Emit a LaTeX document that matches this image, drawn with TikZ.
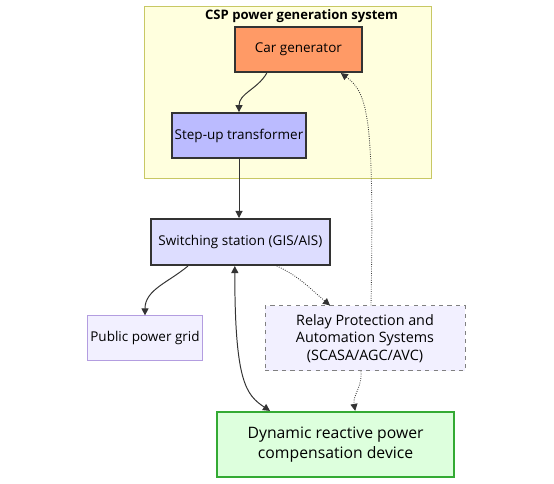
\documentclass[tikz,border=0pt]{standalone}
\usepackage{fontspec}
\setmainfont{Open Sans}
\usetikzlibrary{positioning,arrows.meta}
\definecolor{ClusterFill}{HTML}{FFFFDE}
\definecolor{ClusterLine}{HTML}{C8C864}
\definecolor{GenFill}{HTML}{FF9A66}
\definecolor{TrafoFill}{HTML}{BBBBFF}
\definecolor{StationFill}{HTML}{DDDDFF}
\definecolor{SoftFill}{HTML}{F2F0FF}
\definecolor{GridLine}{HTML}{B39DE0}
\definecolor{GreenFill}{HTML}{DDFFDD}
\definecolor{GreenLine}{HTML}{33AA33}
\definecolor{EdgeGray}{HTML}{333333}

\begin{document}
\begin{tikzpicture}[
      box/.style={draw=EdgeGray,line width=1.4pt,align=center,font=\fontsize{9.6}{11.5}\selectfont,inner sep=2pt},
      flow/.style={{Triangle[length=5pt,width=5pt]}-{Triangle[length=5pt,width=5pt]},EdgeGray,line width=0.7pt},
      fwd/.style={-{Triangle[length=5pt,width=5pt]},EdgeGray,line width=0.7pt},
      ctrl/.style={-{Triangle[length=5pt,width=5pt]},EdgeGray,line width=0.6pt,densely dotted}]
    \useasboundingbox (0,0) rectangle (13.85,-12.1);
    % cluster
    \node[draw=ClusterLine,fill=ClusterFill,line width=0.7pt,minimum width=7.175cm,minimum height=4.3cm] (csp) at (7.19,-2.3) {};
    \node[font=\bfseries\fontsize{9.3}{11}\selectfont,inner sep=1pt,below=0.06cm of csp.north,xshift=0.35cm] (title) {CSP power generation system};
    % nodes
    \node[box,fill=GenFill,minimum width=3.175cm,minimum height=1.125cm] (gen) at (7.46,-1.24) {Car generator};
    \node[box,fill=TrafoFill,minimum width=3.2cm,minimum height=1.125cm] (trafo) at (5.975,-3.39) {Step-up transformer};
    \node[box,fill=StationFill,minimum width=4.475cm,minimum height=1.15cm] (station) at (6.01,-6.05) {Switching station (GIS/AIS)};
    \node[box,fill=SoftFill,draw=GridLine,line width=0.7pt,minimum width=2.8cm,minimum height=1.125cm] (grid) at (3.625,-8.46) {Public power grid};
    \node[box,fill=SoftFill,draw=gray,line width=0.7pt,dashed,minimum width=5cm,minimum height=1.625cm,font=\fontsize{10.2}{12.5}\selectfont] (relay) at (9.125,-8.46) {Relay Protection and\\Automation Systems\\(SCASA/AGC/AVC)};
    \node[box,fill=GreenFill,draw=GreenLine,minimum width=5.925cm,minimum height=1.625cm,font=\fontsize{11.2}{14}\selectfont] (svg) at (8.39,-11.11) {Dynamic reactive power\\compensation device};
    % connectors
    \draw[fwd] ([xshift=-0.79cm]gen.south) to[out=-120,in=90] (trafo.north);
    \draw[fwd] (trafo.south) -- (trafo.south |- station.north);
    \draw[fwd] ([xshift=-1.31cm]station.south) to[out=-140,in=90] (grid.north);
    \draw[ctrl] ([xshift=0.91cm]station.south) to[out=-25,in=140] ([xshift=-0.875cm]relay.north);
    \draw[ctrl] ([xshift=0.15cm]relay.north) .. controls +(0.08,4.6) and +(0.7,-0.5) .. ([xshift=1.06cm]gen.south);
    \draw[flow] ([xshift=-0.14cm]station.south) .. controls +(0,-2.9) and +(-0.6,0.4) .. ([xshift=-1.64cm]svg.north);
    \draw[ctrl] ([xshift=-0.1cm]relay.south) to[out=-85,in=100] ([xshift=0.49cm]svg.north);
  \end{tikzpicture}
\end{document}
